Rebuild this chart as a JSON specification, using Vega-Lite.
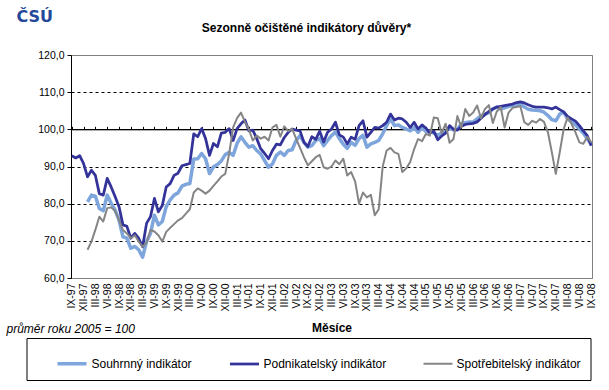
{
  "$schema": "https://vega.github.io/schema/vega-lite/v6.json",
  "autosize": {"type": "none"},
  "width": 521,
  "height": 223,
  "padding": {"left": 71, "top": 55, "right": 17, "bottom": 112},
  "background": "white",
  "config": {"font": "Liberation Sans", "view": {"stroke": "#808080", "strokeWidth": 1}},
  "title": {"text": "Sezonně očištěné indikátory důvěry*", "fontSize": 12, "fontWeight": "bold", "color": "black", "anchor": "middle", "dx": -25, "offset": 20, "dy": 47},
  "data": {"values": [
    {"m": "IX-97", "Podnikatelský indikátor": 92.9},
    {"m": "X-97", "Podnikatelský indikátor": 92.3},
    {"m": "XI-97", "Podnikatelský indikátor": 92.9},
    {"m": "XII-97", "Podnikatelský indikátor": 90.8},
    {"m": "I-98", "Souhrnný indikátor": 80.5, "Podnikatelský indikátor": 87.2, "Spotřebitelský indikátor": 67.6},
    {"m": "II-98", "Souhrnný indikátor": 82.3, "Podnikatelský indikátor": 89.0, "Spotřebitelský indikátor": 69.8},
    {"m": "III-98", "Souhrnný indikátor": 82.0, "Podnikatelský indikátor": 87.6, "Spotřebitelský indikátor": 73.0},
    {"m": "IV-98", "Souhrnný indikátor": 78.7, "Podnikatelský indikátor": 82.7, "Spotřebitelský indikátor": 76.5},
    {"m": "V-98", "Souhrnný indikátor": 78.1, "Podnikatelský indikátor": 82.3, "Spotřebitelský indikátor": 75.2},
    {"m": "VI-98", "Souhrnný indikátor": 82.3, "Podnikatelský indikátor": 86.8, "Spotřebitelský indikátor": 78.8},
    {"m": "VII-98", "Souhrnný indikátor": 80.1, "Podnikatelský indikátor": 84.5, "Spotřebitelský indikátor": 79.0},
    {"m": "VIII-98", "Souhrnný indikátor": 78.3, "Podnikatelský indikátor": 81.9, "Spotřebitelský indikátor": 78.0},
    {"m": "IX-98", "Souhrnný indikátor": 75.6, "Podnikatelský indikátor": 79.2, "Spotřebitelský indikátor": 75.6},
    {"m": "X-98", "Souhrnný indikátor": 71.1, "Podnikatelský indikátor": 74.3, "Spotřebitelský indikátor": 72.9},
    {"m": "XI-98", "Souhrnný indikátor": 70.7, "Podnikatelský indikátor": 73.9, "Spotřebitelský indikátor": 72.0},
    {"m": "XII-98", "Souhrnný indikátor": 68.0, "Podnikatelský indikátor": 70.7, "Spotřebitelský indikátor": 70.7},
    {"m": "I-99", "Souhrnný indikátor": 68.5, "Podnikatelský indikátor": 72.0, "Spotřebitelský indikátor": 71.5},
    {"m": "II-99", "Souhrnný indikátor": 67.6, "Podnikatelský indikátor": 70.7, "Spotřebitelský indikátor": 69.8},
    {"m": "III-99", "Souhrnný indikátor": 65.6, "Podnikatelský indikátor": 68.4, "Spotřebitelský indikátor": 68.4},
    {"m": "IV-99", "Souhrnný indikátor": 69.8, "Podnikatelský indikátor": 74.7, "Spotřebitelský indikátor": 69.5},
    {"m": "V-99", "Souhrnný indikátor": 72.0, "Podnikatelský indikátor": 76.5, "Spotřebitelský indikátor": 72.9},
    {"m": "VI-99", "Souhrnný indikátor": 76.9, "Podnikatelský indikátor": 81.4, "Spotřebitelský indikátor": 72.5},
    {"m": "VII-99", "Souhrnný indikátor": 74.3, "Podnikatelský indikátor": 77.8, "Spotřebitelský indikátor": 71.5},
    {"m": "VIII-99", "Souhrnný indikátor": 75.2, "Podnikatelský indikátor": 79.5, "Spotřebitelský indikátor": 69.8},
    {"m": "IX-99", "Souhrnný indikátor": 79.2, "Podnikatelský indikátor": 84.5, "Spotřebitelský indikátor": 72.4},
    {"m": "X-99", "Souhrnný indikátor": 81.0, "Podnikatelský indikátor": 85.4, "Spotřebitelský indikátor": 73.5},
    {"m": "XI-99", "Souhrnný indikátor": 82.3, "Podnikatelský indikátor": 87.6, "Spotřebitelský indikátor": 74.5},
    {"m": "XII-99", "Souhrnný indikátor": 82.9, "Podnikatelský indikátor": 88.2, "Spotřebitelský indikátor": 75.5},
    {"m": "I-00", "Souhrnný indikátor": 84.7, "Podnikatelský indikátor": 90.2, "Spotřebitelský indikátor": 76.1},
    {"m": "II-00", "Souhrnný indikátor": 85.2, "Podnikatelský indikátor": 90.5, "Spotřebitelský indikátor": 77.3},
    {"m": "III-00", "Souhrnný indikátor": 85.4, "Podnikatelský indikátor": 90.8, "Spotřebitelský indikátor": 78.5},
    {"m": "IV-00", "Souhrnný indikátor": 92.0, "Podnikatelský indikátor": 98.8, "Spotřebitelský indikátor": 83.0},
    {"m": "V-00", "Souhrnný indikátor": 92.1, "Podnikatelský indikátor": 98.0, "Spotřebitelský indikátor": 84.1},
    {"m": "VI-00", "Souhrnný indikátor": 93.5, "Podnikatelský indikátor": 100.2, "Spotřebitelský indikátor": 83.5},
    {"m": "VII-00", "Souhrnný indikátor": 92.1, "Podnikatelský indikátor": 97.5, "Spotřebitelský indikátor": 82.7},
    {"m": "VIII-00", "Souhrnný indikátor": 88.1, "Podnikatelský indikátor": 93.0, "Spotřebitelský indikátor": 83.5},
    {"m": "IX-00", "Souhrnný indikátor": 89.9, "Podnikatelský indikátor": 96.2, "Spotřebitelský indikátor": 84.8},
    {"m": "X-00", "Souhrnný indikátor": 90.5, "Podnikatelský indikátor": 95.3, "Spotřebitelský indikátor": 86.0},
    {"m": "XI-00", "Souhrnný indikátor": 91.5, "Podnikatelský indikátor": 99.0, "Spotřebitelský indikátor": 87.3},
    {"m": "XII-00", "Souhrnný indikátor": 93.2, "Podnikatelský indikátor": 99.2, "Spotřebitelský indikátor": 88.0},
    {"m": "I-01", "Souhrnný indikátor": 93.8, "Podnikatelský indikátor": 100.2, "Spotřebitelský indikátor": 93.5},
    {"m": "II-01", "Souhrnný indikátor": 93.0, "Podnikatelský indikátor": 97.0, "Spotřebitelský indikátor": 100.5},
    {"m": "III-01", "Souhrnný indikátor": 96.2, "Podnikatelský indikátor": 100.2, "Spotřebitelský indikátor": 103.0},
    {"m": "IV-01", "Souhrnný indikátor": 98.0, "Podnikatelský indikátor": 101.5, "Spotřebitelský indikátor": 104.5},
    {"m": "V-01", "Souhrnný indikátor": 96.5, "Podnikatelský indikátor": 102.5, "Spotřebitelský indikátor": 102.0},
    {"m": "VI-01", "Souhrnný indikátor": 95.2, "Podnikatelský indikátor": 99.6, "Spotřebitelský indikátor": 100.0},
    {"m": "VII-01", "Souhrnný indikátor": 95.6, "Podnikatelský indikátor": 99.8, "Spotřebitelský indikátor": 97.0},
    {"m": "VIII-01", "Souhrnný indikátor": 94.3, "Podnikatelský indikátor": 97.5, "Spotřebitelský indikátor": 98.3},
    {"m": "IX-01", "Souhrnný indikátor": 93.4, "Podnikatelský indikátor": 94.8, "Spotřebitelský indikátor": 97.5},
    {"m": "X-01", "Souhrnný indikátor": 91.6, "Podnikatelský indikátor": 93.5, "Spotřebitelský indikátor": 98.0},
    {"m": "XI-01", "Souhrnný indikátor": 89.8, "Podnikatelský indikátor": 92.1, "Spotřebitelský indikátor": 97.0},
    {"m": "XII-01", "Souhrnný indikátor": 90.7, "Podnikatelský indikátor": 94.3, "Spotřebitelský indikátor": 100.5},
    {"m": "I-02", "Souhrnný indikátor": 93.0, "Podnikatelský indikátor": 96.0, "Spotřebitelský indikátor": 101.2},
    {"m": "II-02", "Souhrnný indikátor": 93.9, "Podnikatelský indikátor": 95.8, "Spotřebitelský indikátor": 98.0},
    {"m": "III-02", "Souhrnný indikátor": 93.0, "Podnikatelský indikátor": 97.8, "Spotřebitelský indikátor": 100.8},
    {"m": "IV-02", "Souhrnný indikátor": 94.3, "Podnikatelský indikátor": 99.2, "Spotřebitelský indikátor": 99.5},
    {"m": "V-02", "Souhrnný indikátor": 94.5, "Podnikatelský indikátor": 100.1, "Spotřebitelský indikátor": 100.1},
    {"m": "VI-02", "Souhrnný indikátor": 97.0, "Podnikatelský indikátor": 99.8, "Spotřebitelský indikátor": 97.5},
    {"m": "VII-02", "Souhrnný indikátor": 98.3, "Podnikatelský indikátor": 99.6, "Spotřebitelský indikátor": 95.0},
    {"m": "VIII-02", "Souhrnný indikátor": 96.5, "Podnikatelský indikátor": 96.5, "Spotřebitelský indikátor": 92.5},
    {"m": "IX-02", "Souhrnný indikátor": 95.2, "Podnikatelský indikátor": 95.4, "Spotřebitelský indikátor": 90.3},
    {"m": "X-02", "Souhrnný indikátor": 95.6, "Podnikatelský indikátor": 98.0, "Spotřebitelský indikátor": 91.4},
    {"m": "XI-02", "Souhrnný indikátor": 97.0, "Podnikatelský indikátor": 97.3, "Spotřebitelský indikátor": 92.5},
    {"m": "XII-02", "Souhrnný indikátor": 97.5, "Podnikatelský indikátor": 99.5, "Spotřebitelský indikátor": 93.1},
    {"m": "I-03", "Souhrnný indikátor": 95.6, "Podnikatelský indikátor": 96.6, "Spotřebitelský indikátor": 89.8},
    {"m": "II-03", "Souhrnný indikátor": 97.0, "Podnikatelský indikátor": 99.2, "Spotřebitelský indikátor": 89.4},
    {"m": "III-03", "Souhrnný indikátor": 98.3, "Podnikatelský indikátor": 100.1, "Spotřebitelský indikátor": 90.0},
    {"m": "IV-03", "Souhrnný indikátor": 99.3, "Podnikatelský indikátor": 101.9, "Spotřebitelský indikátor": 91.6},
    {"m": "V-03", "Souhrnný indikátor": 97.5, "Podnikatelský indikátor": 98.5, "Spotřebitelský indikátor": 90.6},
    {"m": "VI-03", "Souhrnný indikátor": 96.0, "Podnikatelský indikátor": 97.9, "Spotřebitelský indikátor": 92.1},
    {"m": "VII-03", "Souhrnný indikátor": 94.9, "Podnikatelský indikátor": 96.1, "Spotřebitelský indikátor": 87.6},
    {"m": "VIII-03", "Souhrnný indikátor": 96.5, "Podnikatelský indikátor": 97.9, "Spotřebitelský indikátor": 88.5},
    {"m": "IX-03", "Souhrnný indikátor": 95.7, "Podnikatelský indikátor": 97.3, "Spotřebitelský indikátor": 86.0},
    {"m": "X-03", "Souhrnný indikátor": 97.5, "Podnikatelský indikátor": 101.0, "Spotřebitelský indikátor": 80.0},
    {"m": "XI-03", "Souhrnný indikátor": 98.4, "Podnikatelský indikátor": 102.3, "Spotřebitelský indikátor": 83.0},
    {"m": "XII-03", "Souhrnný indikátor": 95.2, "Podnikatelský indikátor": 97.9, "Spotřebitelský indikátor": 81.7},
    {"m": "I-04", "Souhrnný indikátor": 96.1, "Podnikatelský indikátor": 99.2, "Spotřebitelský indikátor": 82.4},
    {"m": "II-04", "Souhrnný indikátor": 96.5, "Podnikatelský indikátor": 100.5, "Spotřebitelský indikátor": 76.9},
    {"m": "III-04", "Souhrnný indikátor": 97.0, "Podnikatelský indikátor": 100.3, "Spotřebitelský indikátor": 78.5},
    {"m": "IV-04", "Souhrnný indikátor": 98.8, "Podnikatelský indikátor": 101.0, "Spotřebitelský indikátor": 89.9},
    {"m": "V-04", "Souhrnný indikátor": 101.0, "Podnikatelský indikátor": 101.9, "Spotřebitelský indikátor": 94.3},
    {"m": "VI-04", "Souhrnný indikátor": 102.8, "Podnikatelský indikátor": 104.1, "Spotřebitelský indikátor": 95.0},
    {"m": "VII-04", "Souhrnný indikátor": 101.0, "Podnikatelský indikátor": 102.5, "Spotřebitelský indikátor": 93.8},
    {"m": "VIII-04", "Souhrnný indikátor": 101.2, "Podnikatelský indikátor": 103.0, "Spotřebitelský indikátor": 93.4},
    {"m": "IX-04", "Souhrnný indikátor": 100.5, "Podnikatelský indikátor": 102.8, "Spotřebitelský indikátor": 88.5},
    {"m": "X-04", "Souhrnný indikátor": 100.1, "Podnikatelský indikátor": 101.9, "Spotřebitelský indikátor": 89.5},
    {"m": "XI-04", "Souhrnný indikátor": 99.6, "Podnikatelský indikátor": 100.5, "Spotřebitelský indikátor": 91.2},
    {"m": "XII-04", "Souhrnný indikátor": 100.5, "Podnikatelský indikátor": 101.9, "Spotřebitelský indikátor": 94.7},
    {"m": "I-05", "Souhrnný indikátor": 99.2, "Podnikatelský indikátor": 100.1, "Spotřebitelský indikátor": 97.4},
    {"m": "II-05", "Souhrnný indikátor": 100.5, "Podnikatelský indikátor": 101.2, "Spotřebitelský indikátor": 96.8},
    {"m": "III-05", "Souhrnný indikátor": 99.4, "Podnikatelský indikátor": 100.3, "Spotřebitelský indikátor": 98.8},
    {"m": "IV-05", "Souhrnný indikátor": 99.5, "Podnikatelský indikátor": 99.0, "Spotřebitelský indikátor": 98.3},
    {"m": "V-05", "Souhrnný indikátor": 99.0, "Podnikatelský indikátor": 99.5, "Spotřebitelský indikátor": 103.2},
    {"m": "VI-05", "Souhrnný indikátor": 98.4, "Podnikatelský indikátor": 97.2, "Spotřebitelský indikátor": 103.0},
    {"m": "VII-05", "Souhrnný indikátor": 99.0, "Podnikatelský indikátor": 98.2, "Spotřebitelský indikátor": 99.0},
    {"m": "VIII-05", "Souhrnný indikátor": 99.3, "Podnikatelský indikátor": 99.0, "Spotřebitelský indikátor": 101.5},
    {"m": "IX-05", "Souhrnný indikátor": 100.5, "Podnikatelský indikátor": 101.0, "Spotřebitelský indikátor": 96.4},
    {"m": "X-05", "Souhrnný indikátor": 99.8, "Podnikatelský indikátor": 100.0, "Spotřebitelský indikátor": 97.4},
    {"m": "XI-05", "Souhrnný indikátor": 100.0, "Podnikatelský indikátor": 99.8, "Spotřebitelský indikátor": 103.6},
    {"m": "XII-05", "Souhrnný indikátor": 101.5, "Podnikatelský indikátor": 100.8, "Spotřebitelský indikátor": 100.5},
    {"m": "I-06", "Souhrnný indikátor": 101.8, "Podnikatelský indikátor": 101.3, "Spotřebitelský indikátor": 105.5},
    {"m": "II-06", "Souhrnný indikátor": 102.0, "Podnikatelský indikátor": 101.5, "Spotřebitelský indikátor": 103.6},
    {"m": "III-06", "Souhrnný indikátor": 102.0, "Podnikatelský indikátor": 101.6, "Spotřebitelský indikátor": 104.5},
    {"m": "IV-06", "Souhrnný indikátor": 102.8, "Podnikatelský indikátor": 102.0, "Spotřebitelský indikátor": 106.4},
    {"m": "V-06", "Souhrnný indikátor": 103.7, "Podnikatelský indikátor": 103.0, "Spotřebitelský indikátor": 103.0},
    {"m": "VI-06", "Souhrnný indikátor": 104.0, "Podnikatelský indikátor": 104.0, "Spotřebitelský indikátor": 105.5},
    {"m": "VII-06", "Souhrnný indikátor": 104.5, "Podnikatelský indikátor": 104.8, "Spotřebitelský indikátor": 106.5},
    {"m": "VIII-06", "Souhrnný indikátor": 105.5, "Podnikatelský indikátor": 105.5, "Spotřebitelský indikátor": 101.7},
    {"m": "IX-06", "Souhrnný indikátor": 106.0, "Podnikatelský indikátor": 106.0, "Spotřebitelský indikátor": 104.8},
    {"m": "X-06", "Souhrnný indikátor": 105.5, "Podnikatelský indikátor": 106.2, "Spotřebitelský indikátor": 106.0},
    {"m": "XI-06", "Souhrnný indikátor": 105.8, "Podnikatelský indikátor": 106.4, "Spotřebitelský indikátor": 100.5},
    {"m": "XII-06", "Souhrnný indikátor": 106.2, "Podnikatelský indikátor": 106.6, "Spotřebitelský indikátor": 104.5},
    {"m": "I-07", "Souhrnný indikátor": 106.4, "Podnikatelský indikátor": 106.8, "Spotřebitelský indikátor": 105.8},
    {"m": "II-07", "Souhrnný indikátor": 106.6, "Podnikatelský indikátor": 107.2, "Spotřebitelský indikátor": 106.0},
    {"m": "III-07", "Souhrnný indikátor": 106.8, "Podnikatelský indikátor": 107.4, "Spotřebitelský indikátor": 106.2},
    {"m": "IV-07", "Souhrnný indikátor": 106.0, "Podnikatelský indikátor": 107.1, "Spotřebitelský indikátor": 101.9},
    {"m": "V-07", "Souhrnný indikátor": 105.4, "Podnikatelský indikátor": 106.6, "Spotřebitelský indikátor": 101.2},
    {"m": "VI-07", "Souhrnný indikátor": 105.2, "Podnikatelský indikátor": 106.2, "Spotřebitelský indikátor": 102.3},
    {"m": "VII-07", "Souhrnný indikátor": 105.1, "Podnikatelský indikátor": 106.0, "Spotřebitelský indikátor": 101.8},
    {"m": "VIII-07", "Souhrnný indikátor": 105.0, "Podnikatelský indikátor": 106.0, "Spotřebitelský indikátor": 102.8},
    {"m": "IX-07", "Souhrnný indikátor": 104.6, "Podnikatelský indikátor": 106.0, "Spotřebitelský indikátor": 102.0},
    {"m": "X-07", "Souhrnný indikátor": 103.7, "Podnikatelský indikátor": 105.8, "Spotřebitelský indikátor": 99.2},
    {"m": "XI-07", "Souhrnný indikátor": 102.6, "Podnikatelský indikátor": 105.5, "Spotřebitelský indikátor": 93.8},
    {"m": "XII-07", "Souhrnný indikátor": 102.3, "Podnikatelský indikátor": 106.0, "Spotřebitelský indikátor": 88.0},
    {"m": "I-08", "Souhrnný indikátor": 104.1, "Podnikatelský indikátor": 105.3, "Spotřebitelský indikátor": 93.8},
    {"m": "II-08", "Souhrnný indikátor": 104.6, "Podnikatelský indikátor": 104.7, "Spotřebitelský indikátor": 100.1},
    {"m": "III-08", "Souhrnný indikátor": 102.8, "Podnikatelský indikátor": 103.5, "Spotřebitelský indikátor": 103.2},
    {"m": "IV-08", "Souhrnný indikátor": 102.0, "Podnikatelský indikátor": 102.8, "Spotřebitelský indikátor": 101.5},
    {"m": "V-08", "Souhrnný indikátor": 101.2, "Podnikatelský indikátor": 102.2, "Spotřebitelský indikátor": 99.2},
    {"m": "VI-08", "Souhrnný indikátor": 100.1, "Podnikatelský indikátor": 101.0, "Spotřebitelský indikátor": 96.5},
    {"m": "VII-08", "Souhrnný indikátor": 99.0, "Podnikatelský indikátor": 99.6, "Spotřebitelský indikátor": 96.1},
    {"m": "VIII-08", "Souhrnný indikátor": 97.4, "Podnikatelský indikátor": 98.3, "Spotřebitelský indikátor": 98.0},
    {"m": "IX-08", "Souhrnný indikátor": 96.1, "Podnikatelský indikátor": 95.6, "Spotřebitelský indikátor": 96.5}
  ]},
  "layer": [
    {
      "transform": [{"fold": ["Souhrnný indikátor", "Podnikatelský indikátor", "Spotřebitelský indikátor"], "as": ["serie", "hodnota"]}],
      "mark": {"type": "line", "strokeJoin": "round"},
      "encoding": {
        "x": {
          "field": "m", "type": "ordinal", "sort": null,
          "scale": {"type": "point", "padding": 0.2},
          "axis": {
            "values": ["IX-97","XII-97","III-98","VI-98","IX-98","XII-98","III-99","VI-99","IX-99","XII-99","III-00","VI-00","IX-00","XII-00","III-01","VI-01","IX-01","XII-01","III-02","VI-02","IX-02","XII-02","III-03","VI-03","IX-03","XII-03","III-04","VI-04","IX-04","XII-04","III-05","VI-05","IX-05","XII-05","III-06","VI-06","IX-06","XII-06","III-07","VI-07","IX-07","XII-07","III-08","VI-08","IX-08"],
            "labelAngle": 270, "labelFontSize": 10.5, "labelColor": "black", "labelPadding": 5,
            "labelOverlap": false, "domain": false, "ticks": false, "grid": false,
            "title": "Měsíce", "titleFontSize": 12, "titleFontWeight": "bold", "titleColor": "black", "titlePadding": 11
          }
        },
        "y": {
          "field": "hodnota", "type": "quantitative",
          "scale": {"domain": [60, 120], "nice": false, "zero": false},
          "axis": {
            "values": [60, 70, 80, 90, 100, 110, 120],
            "labelOverlap": false,
            "labelExpr": "replace(format(datum.value, '.1f'), '.', ',')",
            "labelFontSize": 10.5, "labelColor": "black", "labelPadding": 3,
            "domainColor": "black", "tickColor": "black", "tickSize": 4,
            "grid": true,
            "gridColor": {"condition": {"test": "datum.value == 60 || datum.value == 120", "value": "#808080"}, "value": "black"},
            "gridDash": {"condition": {"test": "datum.value == 60 || datum.value == 120 || datum.value == 100", "value": []}, "value": [3, 3]},
            "title": "ČSÚ", "titleAngle": 0, "titleX": -55, "titleY": -39,
            "titleAlign": "left", "titleBaseline": "middle",
            "titleFont": "DejaVu Sans", "titleFontSize": 16, "titleFontWeight": "bold", "titleColor": "#23479a"
          }
        },
        "color": {
          "field": "serie", "type": "nominal",
          "scale": {"domain": ["Souhrnný indikátor", "Podnikatelský indikátor", "Spotřebitelský indikátor"], "range": ["#7ea6dc", "#333399", "#858585"]},
          "legend": {
            "orient": "none", "legendX": -44.5, "legendY": 283, "direction": "horizontal",
            "title": null,
            "labelFontSize": 12, "labelColor": "black", "labelLimit": 300, "labelOffset": 3,
            "symbolType": "stroke", "symbolSize": 841, "symbolOffset": 20, "columnPadding": 16,
            "padding": 9, "strokeColor": "black", "fillColor": "white"
          }
        },
        "strokeWidth": {
          "field": "serie", "type": "nominal",
          "scale": {"domain": ["Souhrnný indikátor", "Podnikatelský indikátor", "Spotřebitelský indikátor"], "range": [3.5, 2, 1]}
        }
      }
    },
    {
      "mark": {"type": "point", "opacity": 0},
      "encoding": {
        "x": {
          "field": "m", "type": "ordinal", "sort": null,
          "axis": {
            "orient": "top", "offset": -74.33,
            "values": ["IX-97","XII-97","III-98","VI-98","IX-98","XII-98","III-99","VI-99","IX-99","XII-99","III-00","VI-00","IX-00","XII-00","III-01","VI-01","IX-01","XII-01","III-02","VI-02","IX-02","XII-02","III-03","VI-03","IX-03","XII-03","III-04","VI-04","IX-04","XII-04","III-05","VI-05","IX-05","XII-05","III-06","VI-06","IX-06","XII-06","III-07","VI-07","IX-07","XII-07","III-08","VI-08","IX-08"],
            "labels": false, "grid": false, "domainColor": "black", "tickColor": "black", "tickSize": 3,
            "title": "průměr roku 2005 = 100", "titleAngle": 0, "titleX": -65, "titleY": 199,
            "titleAlign": "left", "titleBaseline": "middle",
            "titleFontSize": 12, "titleFontStyle": "italic", "titleFontWeight": "normal", "titleColor": "black"
          }
        }
      }
    }
  ],
  "resolve": {"axis": {"x": "independent"}}
}
